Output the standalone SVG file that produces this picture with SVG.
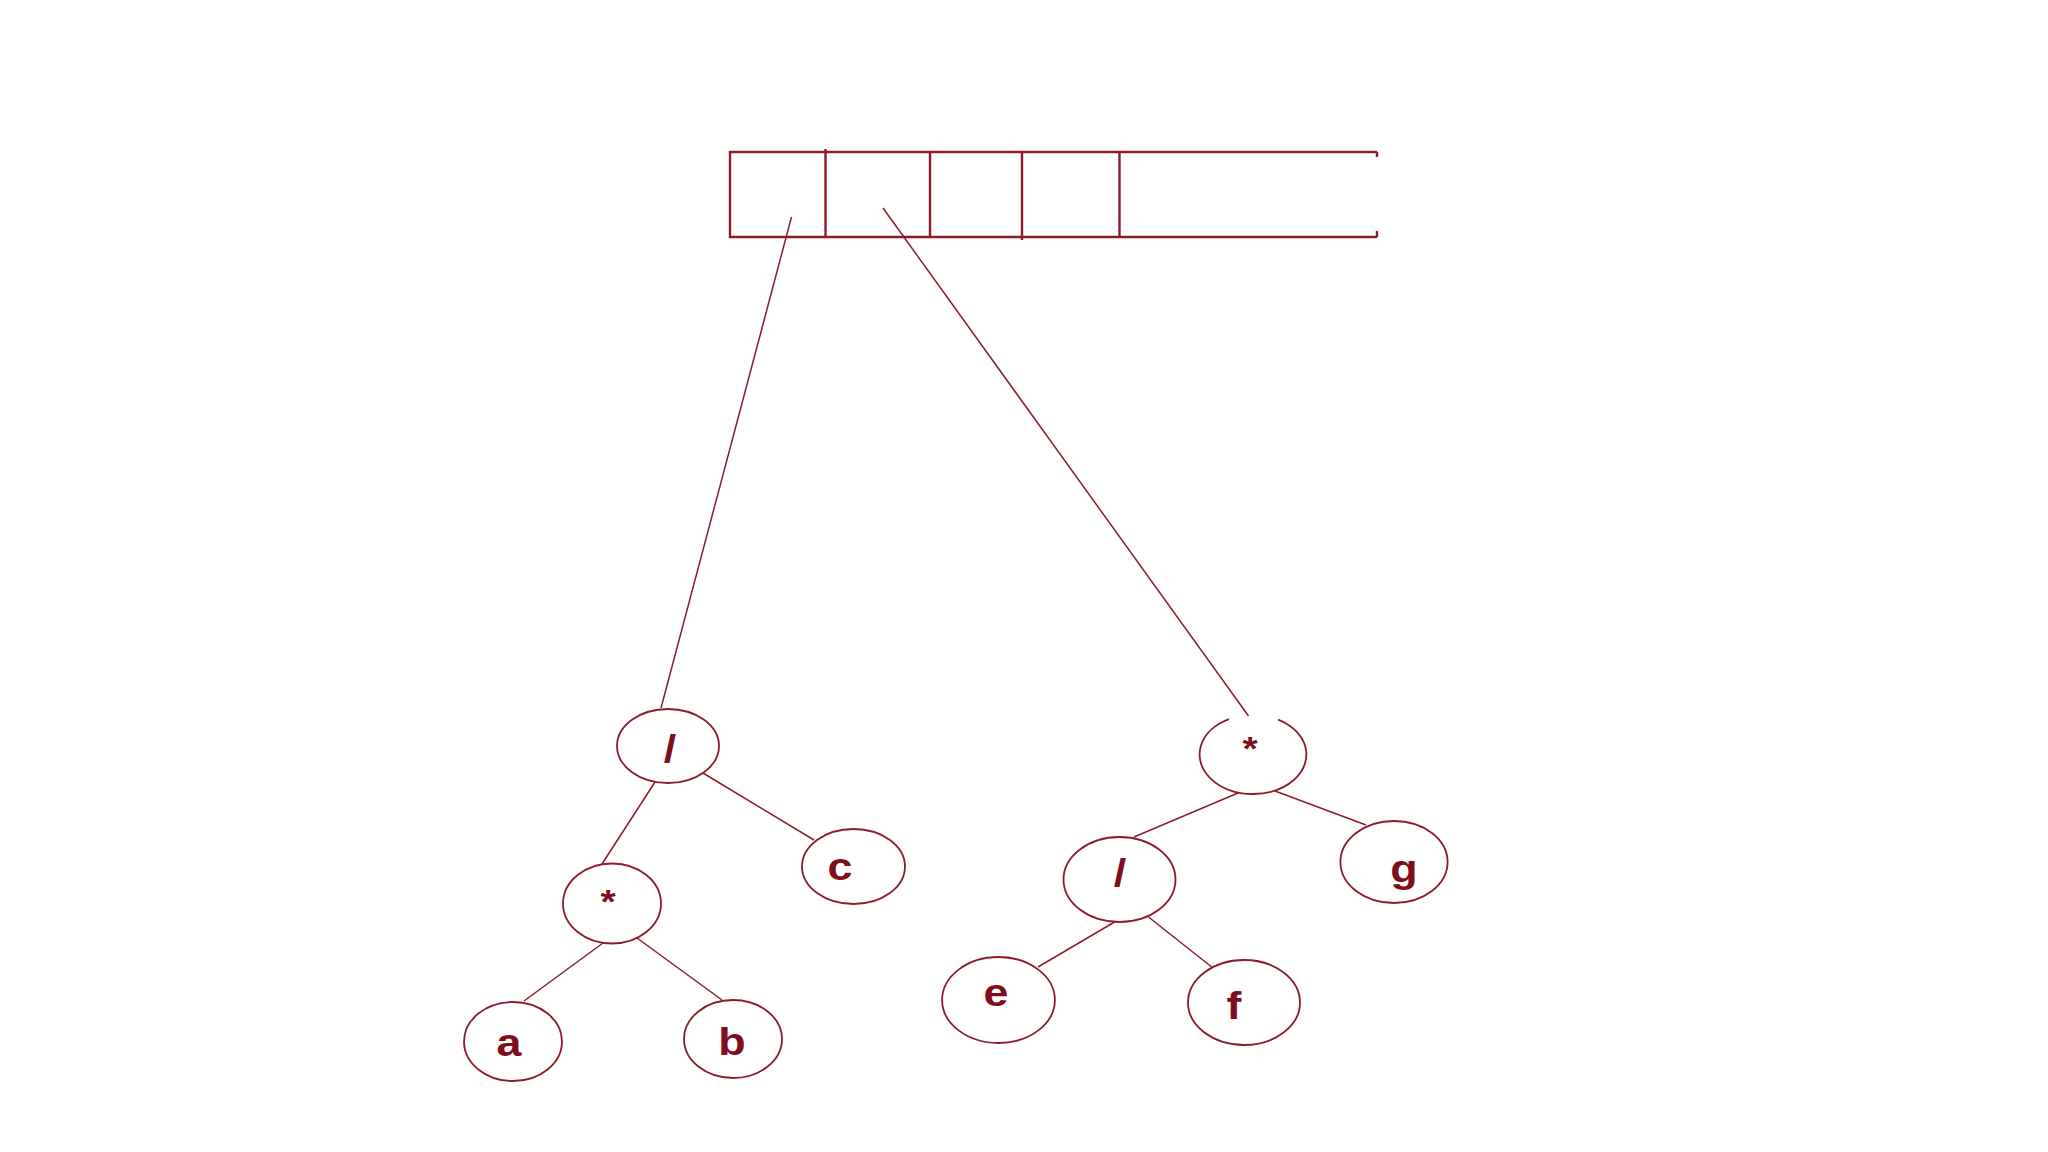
<svg xmlns="http://www.w3.org/2000/svg" width="2048" height="1152" viewBox="0 0 2048 1152">
<style>
.bx{fill:none;stroke:#8e1b2b;stroke-width:2.4}
.nd{fill:none;stroke:#8e1b2b;stroke-width:1.8}
.ln{fill:none;stroke:#8e1b2b;stroke-width:1.5}
.lb{font-family:"Liberation Sans",Arial,sans-serif;font-weight:bold;font-size:39px;fill:#800d1e;text-anchor:middle}
.st{font-size:34px}
</style>
<rect width="2048" height="1152" fill="#ffffff"/>
<g id="array">
<path class="bx" d="M1377 152 H730 V237 H1377 M1377 152 V157 M1377 237 V231"/>
<path class="bx" d="M825.5 149 V237 M930 152 V237 M1022 152 V240 M1119.5 152 V237"/>
</g>
<g id="connectors">
<line class="ln" x1="791.5" y1="217" x2="661" y2="708"/>
<line class="ln" x1="883" y1="208" x2="1248.5" y2="716"/>
<line class="ln" x1="655" y1="782" x2="602" y2="864"/>
<line class="ln" x1="703" y1="773" x2="814" y2="840"/>
<line class="ln" x1="603" y1="943" x2="524" y2="1001"/>
<line class="ln" x1="637" y1="938" x2="722" y2="1000"/>
<line class="ln" x1="1238" y1="793" x2="1134" y2="837"/>
<line class="ln" x1="1275" y1="791" x2="1366" y2="825"/>
<line class="ln" x1="1114.5" y1="922" x2="1038" y2="967"/>
<line class="ln" x1="1148.5" y1="917" x2="1213" y2="968"/>
</g>
<g id="n-div1"><ellipse class="nd" cx="668" cy="746" rx="51" ry="37"/><text class="lb" transform="translate(670 762) scale(1.15 1)">/</text></g>
<g id="n-mul1"><ellipse class="nd" cx="612" cy="903.5" rx="49" ry="40"/><text class="lb st" transform="translate(608 913) scale(1.15 1)">*</text></g>
<g id="n-c"><ellipse class="nd" cx="853.5" cy="866.5" rx="51.5" ry="37.5"/><text class="lb" transform="translate(840 880) scale(1.15 1)">c</text></g>
<g id="n-a"><ellipse class="nd" cx="513" cy="1041.5" rx="49" ry="39.5"/><text class="lb" transform="translate(509 1056) scale(1.15 1)">a</text></g>
<g id="n-b"><ellipse class="nd" cx="733" cy="1039" rx="49" ry="39"/><text class="lb" transform="translate(732 1055) scale(1.15 1)">b</text></g>
<g id="n-mul2"><path class="nd" d="M1278 719.6 A53.4 39.5 0 1 1 1229 719.2"/><text class="lb st" transform="translate(1250 760) scale(1.15 1)">*</text></g>
<g id="n-div2"><ellipse class="nd" cx="1119.5" cy="879.5" rx="56" ry="42.5"/><text class="lb" transform="translate(1120 886) scale(1.15 1)">/</text></g>
<g id="n-g"><ellipse class="nd" cx="1394" cy="862" rx="53.6" ry="41"/><text class="lb" transform="translate(1404 882) scale(1.15 1)">g</text></g>
<g id="n-e"><ellipse class="nd" cx="998.5" cy="1000" rx="56.4" ry="43"/><text class="lb" transform="translate(996 1006) scale(1.15 1)">e</text></g>
<g id="n-f"><ellipse class="nd" cx="1244" cy="1002.5" rx="56" ry="42.5"/><text class="lb" transform="translate(1234 1019) scale(1.15 1)">f</text></g>
</svg>
